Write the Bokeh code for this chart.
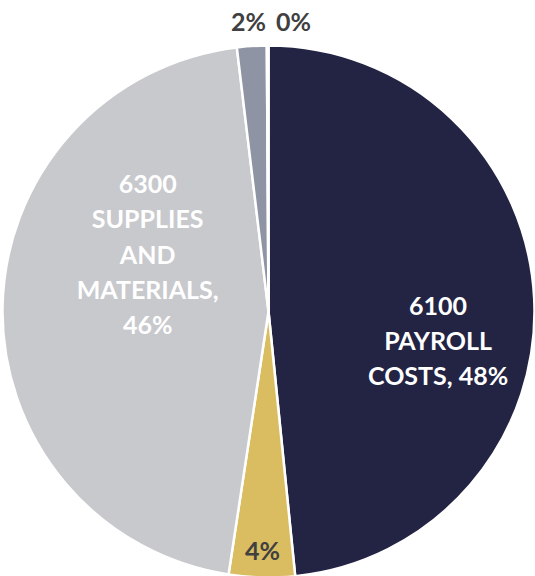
import math
from bokeh.plotting import figure
from bokeh.models import ColumnDataSource
from bokeh.core.properties import value
from bokeh.embed import file_html
from bokeh.resources import INLINE

# Data
categories = ["6100 PAYROLL COSTS", "OTHER (4%)", "6300 SUPPLIES AND MATERIALS", "OTHER (2%)", "OTHER (0%)"]
shares = [48.4, 4.0, 45.7, 1.8, 0.1]
label_texts = ["6100\nPAYROLL\nCOSTS, 48%", "4%", "6300\nSUPPLIES\nAND\nMATERIALS,\n46%", "2%", "0%"]
colors = ["#232343", "#D9BD60", "#C8C9CD", "#8E94A3", "#5A6070"]
label_colors = ["#FFFFFF", "#404040", "#FFFFFF", "#404040", "#404040"]

W, H = 535, 576
cx, cy, R = 268, 265, 266

total = sum(shares)
starts, ends = [], []
cum = 0.0
for s in shares:
    starts.append(math.pi / 2 - 2 * math.pi * cum / total)
    cum += s
    ends.append(math.pi / 2 - 2 * math.pi * cum / total)

src = ColumnDataSource(dict(start=starts, end=ends, color=colors, cat=categories))

p = figure(width=W, height=H, x_range=(0, W), y_range=(0, H),
           output_backend="svg", toolbar_location=None, min_border=0)
p.axis.visible = False
p.grid.visible = False
p.outline_line_color = None
p.background_fill_color = "white"

p.wedge(x=cx, y=cy, radius=R, start_angle="start", end_angle="end",
        direction="clock", fill_color="color", line_color="white",
        line_width=2.5, source=src)

# label placement: (angle offset from slice middle in degrees, radial distance)
mids = [(a + b) / 2 for a, b in zip(starts, ends)]
place = [(-12.5, 172), (0.0, 239), (-24.7, 134), (0.0, 0), (0.0, 0)]
lx, ly = [], []
for m, (da, r) in zip(mids, place):
    a = m + math.radians(da)
    lx.append(cx + r * math.cos(a))
    ly.append(cy + r * math.sin(a))
# outside labels for tiny slices above the pie
lx[3], ly[3] = cx - 20, H - 20
lx[4], ly[4] = cx + 25, H - 20

lsrc = ColumnDataSource(dict(x=lx, y=ly, t=label_texts, c=label_colors))
p.text(x="x", y="y", text="t", text_color="c", source=lsrc,
       text_font=value("Lato"), text_font_style="bold", text_font_size="25px",
       text_align="center", text_baseline="middle", text_line_height=1.17)

open("out.html", "w").write(file_html(p, INLINE))
